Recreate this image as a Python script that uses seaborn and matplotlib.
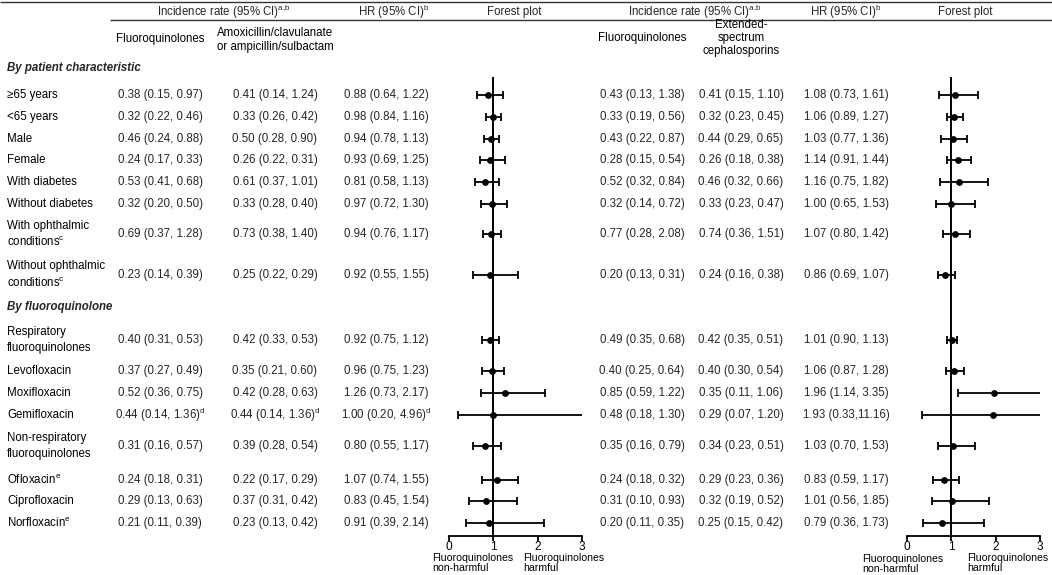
import numpy as np
import pandas as pd
import matplotlib
matplotlib.use("Agg")
import matplotlib.pyplot as plt
import seaborn as sns

# ---------------- data ----------------
section_titles = ["By patient characteristic", "By fluoroquinolone"]

row_labels = [
    "≥65 years", "<65 years", "Male", "Female", "With diabetes",
    "Without diabetes", "With ophthalmic\nconditions$^c$",
    "Without ophthalmic\nconditions$^c$",
    "Respiratory\nfluoroquinolones", "Levofloxacin", "Moxifloxacin",
    "Gemifloxacin", "Non-respiratory\nfluoroquinolones", "Ofloxacin$^e$",
    "Ciprofloxacin", "Norfloxacin$^e$",
]

# Left comparison: fluoroquinolones vs amoxicillin/clavulanate or ampicillin/sulbactam
ir_fq_left = [(0.38, 0.15, 0.97), (0.32, 0.22, 0.46), (0.46, 0.24, 0.88), (0.24, 0.17, 0.33),
              (0.53, 0.41, 0.68), (0.32, 0.20, 0.50), (0.69, 0.37, 1.28), (0.23, 0.14, 0.39),
              (0.40, 0.31, 0.53), (0.37, 0.27, 0.49), (0.52, 0.36, 0.75), (0.44, 0.14, 1.36),
              (0.31, 0.16, 0.57), (0.24, 0.18, 0.31), (0.29, 0.13, 0.63), (0.21, 0.11, 0.39)]
ir_amox = [(0.41, 0.14, 1.24), (0.33, 0.26, 0.42), (0.50, 0.28, 0.90), (0.26, 0.22, 0.31),
           (0.61, 0.37, 1.01), (0.33, 0.28, 0.40), (0.73, 0.38, 1.40), (0.25, 0.22, 0.29),
           (0.42, 0.33, 0.53), (0.35, 0.21, 0.60), (0.42, 0.28, 0.63), (0.44, 0.14, 1.36),
           (0.39, 0.28, 0.54), (0.22, 0.17, 0.29), (0.37, 0.31, 0.42), (0.23, 0.13, 0.42)]
hr_left = [0.88, 0.98, 0.94, 0.93, 0.81, 0.97, 0.94, 0.92,
           0.92, 0.96, 1.26, 1.00, 0.80, 1.07, 0.83, 0.91]
hr_left_lo = [0.64, 0.84, 0.78, 0.69, 0.58, 0.72, 0.76, 0.55,
              0.75, 0.75, 0.73, 0.20, 0.55, 0.74, 0.45, 0.39]
hr_left_hi = [1.22, 1.16, 1.13, 1.25, 1.13, 1.30, 1.17, 1.55,
              1.12, 1.23, 2.17, 4.96, 1.17, 1.55, 1.54, 2.14]
left_note = ["", "", "", "", "", "", "", "", "", "", "", "d", "", "", "", ""]

# Right comparison: fluoroquinolones vs extended-spectrum cephalosporins
ir_fq_right = [(0.43, 0.13, 1.38), (0.33, 0.19, 0.56), (0.43, 0.22, 0.87), (0.28, 0.15, 0.54),
               (0.52, 0.32, 0.84), (0.32, 0.14, 0.72), (0.77, 0.28, 2.08), (0.20, 0.13, 0.31),
               (0.49, 0.35, 0.68), (0.40, 0.25, 0.64), (0.85, 0.59, 1.22), (0.48, 0.18, 1.30),
               (0.35, 0.16, 0.79), (0.24, 0.18, 0.32), (0.31, 0.10, 0.93), (0.20, 0.11, 0.35)]
ir_esc = [(0.41, 0.15, 1.10), (0.32, 0.23, 0.45), (0.44, 0.29, 0.65), (0.26, 0.18, 0.38),
          (0.46, 0.32, 0.66), (0.33, 0.23, 0.47), (0.74, 0.36, 1.51), (0.24, 0.16, 0.38),
          (0.42, 0.35, 0.51), (0.40, 0.30, 0.54), (0.35, 0.11, 1.06), (0.29, 0.07, 1.20),
          (0.34, 0.23, 0.51), (0.29, 0.23, 0.36), (0.32, 0.19, 0.52), (0.25, 0.15, 0.42)]
hr_right = [1.08, 1.06, 1.03, 1.14, 1.16, 1.00, 1.07, 0.86,
            1.01, 1.06, 1.96, 1.93, 1.03, 0.83, 1.01, 0.79]
hr_right_lo = [0.73, 0.89, 0.77, 0.91, 0.75, 0.65, 0.80, 0.69,
               0.90, 0.87, 1.14, 0.33, 0.70, 0.59, 0.56, 0.36]
hr_right_hi = [1.61, 1.27, 1.36, 1.44, 1.82, 1.53, 1.42, 1.07,
               1.13, 1.28, 3.35, 11.16, 1.53, 1.17, 1.85, 1.73]

forest_ticks = [0, 1, 2, 3]
forest_left_label = "Fluoroquinolones\nnon-harmful"
forest_right_label = "Fluoroquinolones\nharmful"

# ---------------- layout (pixels) ----------------
W, H = 1052, 575
row_y = [95, 117, 139, 160, 182, 204, 234, 275,
         340, 371, 393, 415, 446, 480, 501, 523]
title_y = [68, 307]
col_x_left = [160, 275, 386]
col_x_right = [642, 741, 846]
FS = 8.3

sns.set_theme(style="white")
plt.rcParams["font.family"] = ["Liberation Sans", "DejaVu Sans"]
plt.rcParams["mathtext.fontset"] = "custom"
plt.rcParams["mathtext.rm"] = "Liberation Sans"
plt.rcParams["mathtext.default"] = "regular"

fig = plt.figure(figsize=(W / 100, H / 100), dpi=100)
fig.patch.set_facecolor("white")
bg = fig.add_axes([0, 0, 1, 1])
bg.set_xlim(0, W)
bg.set_ylim(H, 0)
bg.axis("off")


def fmt(t, note=""):
    v, lo, hi = t
    sep = " " if hi < 10 else ""
    s = f"{v:.2f} ({lo:.2f},{sep}{hi:.2f})"
    if note:
        s += f"$^{note}$"
    return s


def put_lines(x, yc, text, spacing, ha="center", size=FS, **kw):
    lines = text.split("\n")
    n = len(lines)
    for i, ln in enumerate(lines):
        y = yc + (i - (n - 1) / 2) * spacing
        bg.text(x, y, ln, ha=ha, va="center", fontsize=size, color="black", **kw)


# rules
bg.hlines(2, 0, W, color="#333333", lw=1.0)
bg.hlines(20, 110, W, color="#333333", lw=1.0)

# headers
hdr_y = 12
for xc in (224, 695):
    bg.text(xc, hdr_y, r"Incidence rate (95% CI)$^{a,\!b}$", ha="center", va="center", fontsize=FS)
for xc in (394, 846):
    bg.text(xc, hdr_y, "HR (95% CI)$^b$", ha="center", va="center", fontsize=FS)
for xc in (514, 965):
    bg.text(xc, hdr_y, "Forest plot", ha="center", va="center", fontsize=FS)

put_lines(col_x_left[0], 39, "Fluoroquinolones", 14)
put_lines(col_x_left[1], 40, "Amoxicillin/clavulanate\nor ampicillin/sulbactam", 14)
put_lines(col_x_right[0], 38, "Fluoroquinolones", 13)
put_lines(col_x_right[1], 38, "Extended-\nspectrum\ncephalosporins", 12.8)

# section titles
for t, y in zip(section_titles, title_y):
    bg.text(7, y, t, ha="left", va="center", fontsize=FS, fontweight="bold", style="italic")

# rows
for i, lab in enumerate(row_labels):
    y = row_y[i]
    put_lines(7, y, lab, 17, ha="left")
    note = left_note[i]
    bg.text(col_x_left[0], y, fmt(ir_fq_left[i], note), ha="center", va="center", fontsize=FS)
    bg.text(col_x_left[1], y, fmt(ir_amox[i], note), ha="center", va="center", fontsize=FS)
    bg.text(col_x_left[2], y, fmt((hr_left[i], hr_left_lo[i], hr_left_hi[i]), note),
            ha="center", va="center", fontsize=FS)
    bg.text(col_x_right[0], y, fmt(ir_fq_right[i]), ha="center", va="center", fontsize=FS)
    bg.text(col_x_right[1], y, fmt(ir_esc[i]), ha="center", va="center", fontsize=FS)
    bg.text(col_x_right[2], y, fmt((hr_right[i], hr_right_lo[i], hr_right_hi[i])),
            ha="center", va="center", fontsize=FS)

# forest plots
axis_y, top_y = 536, 77
unit = 44.4


def forest(x0, est, lo, hi):
    ax = fig.add_axes([x0 / W, (H - axis_y) / H, 3 * unit / W, (axis_y - top_y) / H])
    ax.patch.set_alpha(0)
    df = pd.DataFrame({"hr": est, "lo": lo, "hi": hi, "y": row_y})
    ax.errorbar(df["hr"], df["y"], xerr=[df["hr"] - df["lo"], df["hi"] - df["hr"]],
                fmt="none", ecolor="black", elinewidth=1.3, capsize=3.2, capthick=1.3, zorder=2)
    sns.scatterplot(data=df, x="hr", y="y", ax=ax, color="black", s=24,
                    edgecolor="black", linewidth=0, zorder=3, legend=False)
    ax.axvline(1, color="black", lw=1.4, zorder=1)
    ax.set_xlim(0, 3)
    ax.set_ylim(axis_y, top_y)
    ax.set_xticks(forest_ticks)
    ax.set_xticklabels([str(t) for t in forest_ticks], fontsize=FS + 0.3)
    ax.set_yticks([])
    ax.set_xlabel("")
    ax.set_ylabel("")
    for s in ("left", "right", "top"):
        ax.spines[s].set_visible(False)
    ax.spines["bottom"].set_color("black")
    ax.spines["bottom"].set_linewidth(1.3)
    ax.tick_params(axis="x", direction="out", length=3.5, width=1.3, color="black",
                   pad=0, labelcolor="black", bottom=True)
    return ax


forest(449, hr_left, hr_left_lo, hr_left_hi)
forest(907, hr_right, hr_right_lo, hr_right_hi)

fs_small = 7.6
for x, y, lab in [(432, 553, forest_left_label), (523, 553, forest_right_label),
                  (862, 554, forest_left_label), (967, 553, forest_right_label)]:
    bg.text(x, y, lab, ha="left", va="top", fontsize=fs_small, linespacing=0.95, color="black")

fig.savefig("out.png", dpi=100, facecolor="white")
